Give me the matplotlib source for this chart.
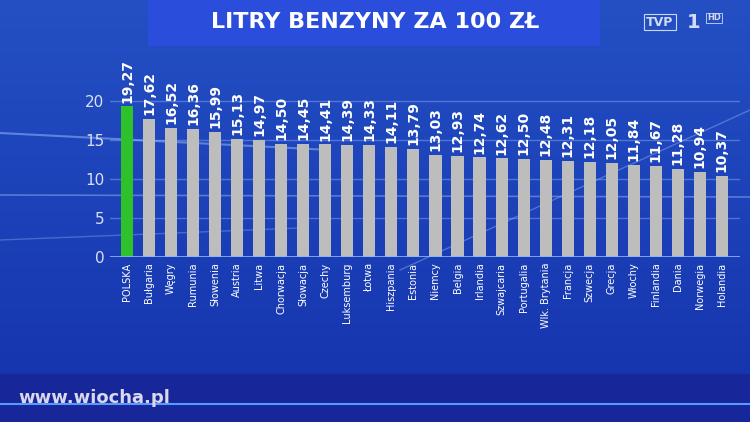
import numpy as np
import matplotlib
matplotlib.use("Agg")
import matplotlib.pyplot as plt
from matplotlib.patches import Rectangle

# data
countries = ["POLSKA", "Bułgaria", "Węgry", "Rumunia", "Słowenia", "Austria", "Litwa",
             "Chorwacja", "Słowacja", "Czechy", "Luksemburg", "Łotwa", "Hiszpania", "Estonia",
             "Niemcy", "Belgia", "Irlandia", "Szwajcaria", "Portugalia", "Wlk. Brytania",
             "Francja", "Szwecja", "Grecja", "Włochy", "Finlandia", "Dania", "Norwegia", "Holandia"]
litres = [19.27, 17.62, 16.52, 16.36, 15.99, 15.13, 14.97, 14.50, 14.45, 14.41, 14.39,
          14.33, 14.11, 13.79, 13.03, 12.93, 12.74, 12.62, 12.50, 12.48, 12.31, 12.18,
          12.05, 11.84, 11.67, 11.28, 10.94, 10.37]
yticks = [0, 5, 10, 15, 20]
title = "LITRY BENZYNY ZA 100 ZŁ"

fig = plt.figure(figsize=(7.5, 4.22), dpi=100)

# background
bg = fig.add_axes([0, 0, 1, 1])
bg.set_xlim(0, 750)
bg.set_ylim(422, 0)
bg.axis("off")
grad = np.linspace(0, 1, 256)[:, None]
top = np.array([36, 80, 196]) / 255
bot = np.array([20, 50, 172]) / 255
img = top * (1 - grad[..., None]) + bot * grad[..., None]
img = np.repeat(img, 2, axis=1)
bg.imshow(img, extent=[0, 750, 422, 0], aspect="auto", zorder=0)
# title box
bg.add_patch(Rectangle((148, 0), 452, 46, color=(0.17, 0.30, 0.86), lw=0, zorder=2))
bg.text(375, 22, title, color="white", fontsize=16, fontweight="bold", ha="center",
        va="center", family=["Liberation Sans Narrow", "DejaVu Sans"], zorder=3)
# logo
bg.text(660, 22, "TVP", color=(0.82, 0.86, 0.95), fontsize=9, fontweight="bold",
        ha="center", va="center", zorder=3,
        bbox=dict(boxstyle="square,pad=0.15", fc="none", ec=(0.8, 0.85, 0.95), lw=0.8))
bg.text(694, 22, "1", color=(0.82, 0.86, 0.95), fontsize=14, fontweight="bold",
        ha="center", va="center", zorder=3)
bg.text(714, 18, "HD", color=(0.82, 0.86, 0.95), fontsize=6, fontweight="bold",
        ha="center", va="center", zorder=3,
        bbox=dict(boxstyle="square,pad=0.1", fc="none", ec=(0.8, 0.85, 0.95), lw=0.6))
# decorative streaks
bg.plot([0, 330], [133, 150], color=(0.7, 0.8, 1.0), lw=1.5, alpha=0.45, zorder=1)
bg.plot([0, 750], [195, 197], color=(0.7, 0.8, 1.0), lw=1.2, alpha=0.4, zorder=1)
bg.plot([400, 750], [270, 110], color=(0.7, 0.8, 1.0), lw=1.0, alpha=0.35, zorder=1)
bg.plot([0, 300], [240, 228], color=(0.7, 0.8, 1.0), lw=1.0, alpha=0.3, zorder=1)
# bottom band
bg.add_patch(Rectangle((0, 374), 750, 48, color=(0.09, 0.15, 0.60), lw=0, zorder=1))
bg.plot([0, 750], [404, 404], color=(0.35, 0.6, 1.0), lw=1.5, zorder=2)
bg.text(18, 398, "www.wiocha.pl", color=(0.85, 0.85, 0.92), fontsize=13, fontweight="bold",
        ha="left", va="center", zorder=3)

# chart
ax = fig.add_axes([110 / 750, (422 - 257) / 422, 630 / 750, 207 / 422])
ax.patch.set_alpha(0)
x = np.arange(len(countries))
colors = ["#2fc12a"] + ["#bdbdbd"] * (len(countries) - 1)
ax.bar(x, litres, width=0.55, color=colors, zorder=3)
ax.set_xlim(-0.77, len(countries) - 1 + 0.82)
ax.set_ylim(0, 26.5)
ax.set_yticks(yticks)
ax.set_yticklabels([str(t) for t in yticks], color=(0.85, 0.88, 0.95), fontsize=11)
for t in yticks[1:]:
    ax.axhline(t, color=(0.6, 0.75, 1.0), lw=1, alpha=0.4, zorder=1)
ax.axhline(0, color=(0.55, 0.7, 1.0), lw=1.2, zorder=4)
ax.set_xticks(x)
ax.set_xticklabels(countries, rotation=90, color="white", fontsize=7)
ax.tick_params(length=0, pad=4)
for s in ax.spines.values():
    s.set_visible(False)
for xi, v in zip(x, litres):
    ax.text(xi, v + 0.5, f"{v:.2f}".replace(".", ","), rotation=90, ha="center",
            va="bottom", color="white", fontsize=10, fontweight="bold", zorder=5)

fig.savefig("out.png", dpi=100)
